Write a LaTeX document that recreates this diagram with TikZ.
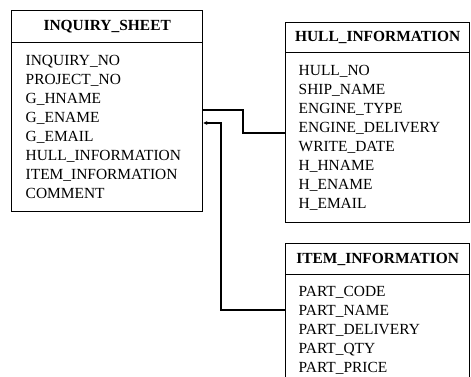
\documentclass[tikz,border=0pt]{standalone}
\usepackage{fontspec}
\setmainfont{Liberation Serif}
\usetikzlibrary{arrows.meta}
\begin{document}
\begin{tikzpicture}[x=1bp,y=-1bp,
  boxline/.style={draw=black, line width=1.4bp},
  hdr/.style={boxline, anchor=north west, inner sep=0pt,
    font=\fontsize{15.5}{19}\selectfont\bfseries},
  body/.style={boxline, anchor=north west, inner ysep=0pt, align=left,
    font=\fontsize{15.5}{19}\selectfont},
  conn/.style={draw=black, line width=1.1bp},
  tip/.style={-{Stealth[length=4bp,width=4bp]}}]
\useasboundingbox (0,0) rectangle (471,376);
\clip (0,0) rectangle (471,376);
% INQUIRY_SHEET
\node[hdr, minimum width=191bp, minimum height=32bp] (inqh) at (11,10) {INQUIRY\_SHEET};
\node[body, minimum width=191bp, minimum height=169bp, inner xsep=14bp, text width=163bp] (inqb) at (11,42)
 {INQUIRY\_NO\\PROJECT\_NO\\G\_HNAME\\G\_ENAME\\G\_EMAIL\\HULL\_INFORMATION\\ITEM\_INFORMATION\\COMMENT};
% HULL_INFORMATION
\node[hdr, minimum width=184bp, minimum height=30bp] (hullh) at (285,22) {HULL\_INFORMATION};
\node[body, minimum width=184bp, minimum height=170bp, inner xsep=13bp, text width=158bp] (hullb) at (285,52)
 {HULL\_NO\\SHIP\_NAME\\ENGINE\_TYPE\\ENGINE\_DELIVERY\\WRITE\_DATE\\H\_HNAME\\H\_ENAME\\H\_EMAIL};
% ITEM_INFORMATION
\node[hdr, minimum width=184bp, minimum height=31bp] (itemh) at (285,243) {ITEM\_INFORMATION};
\node[body, minimum width=184bp, minimum height=112bp, inner xsep=13bp, text width=158bp] (itemb) at (285,274)
 {PART\_CODE\\PART\_NAME\\PART\_DELIVERY\\PART\_QTY\\PART\_PRICE};
% connectors
\coordinate (ya) at (0,110);
\coordinate (yb) at (0,133);
\coordinate (yc) at (0,123);
\coordinate (yd) at (0,310);
\coordinate (ka) at (243,110);
\coordinate (kb) at (243,133);
\coordinate (kc) at (221,123);
\draw[conn] (inqb.east |- ya) -- (ka) -- (kb) -- (hullb.west |- yb);
\draw[conn, tip] (itemb.west |- yd) -| (kc) -- (inqb.east |- yc);
\end{tikzpicture}
\end{document}
